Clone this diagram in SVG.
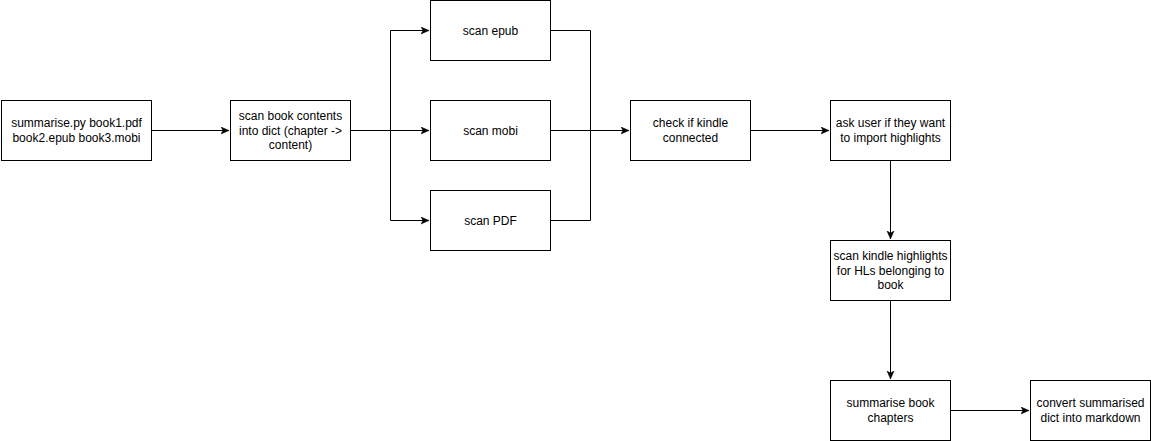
<svg xmlns="http://www.w3.org/2000/svg" width="1151" height="441" viewBox="0 0 1151 441">
<style>
.box{fill:#fff;stroke:#000;stroke-width:1}
.lbl{font-family:"Liberation Sans",Arial,sans-serif;font-size:12px;fill:#000;text-anchor:middle}
.edge{fill:none;stroke:#000;stroke-width:1}
</style>
<defs>
<marker id="arr" markerUnits="userSpaceOnUse" markerWidth="10" markerHeight="10" refX="8" refY="4" orient="auto">
<path d="M0,0.5 L8,4 L0,7.5 L2,4 Z" fill="#000" stroke="#000" stroke-width="0.5"/>
</marker>
</defs>
<rect width="1151" height="441" fill="#fff"/>
<g id="connectors">
<path class="edge" d="M151,130.5 L229,130.5" marker-end="url(#arr)"/>
<path class="edge" d="M350,130.5 L429,130.5" marker-end="url(#arr)"/>
<path class="edge" d="M390.5,130.5 L390.5,30.5 L429,30.5" marker-end="url(#arr)"/>
<path class="edge" d="M390.5,130.5 L390.5,220.5 L429,220.5" marker-end="url(#arr)"/>
<path class="edge" d="M550,30.5 L590.5,30.5 L590.5,130.5"/>
<path class="edge" d="M550,220.5 L590.5,220.5 L590.5,130.5"/>
<path class="edge" d="M550,130.5 L629,130.5" marker-end="url(#arr)"/>
<path class="edge" d="M750,130.5 L829,130.5" marker-end="url(#arr)"/>
<path class="edge" d="M890.5,160 L890.5,239" marker-end="url(#arr)"/>
<path class="edge" d="M890.5,300 L890.5,379" marker-end="url(#arr)"/>
<path class="edge" d="M950,410.5 L1029,410.5" marker-end="url(#arr)"/>
</g>
<g id="n1"><rect class="box" x="1.5" y="100.5" width="150" height="60"/>
<text class="lbl" x="76.5"><tspan x="76.5" y="127">summarise.py book1.pdf</tspan><tspan x="76.5" y="141.5">book2.epub book3.mobi</tspan></text></g>
<g id="n2"><rect class="box" x="230.5" y="100.5" width="120" height="60"/>
<text class="lbl"><tspan x="290.5" y="120">scan book contents</tspan><tspan x="290.5" y="134.5">into dict (chapter -&gt;</tspan><tspan x="290.5" y="149">content)</tspan></text></g>
<g id="n3"><rect class="box" x="430.5" y="0.5" width="120" height="60"/>
<text class="lbl" x="490.5" y="34.5">scan epub</text></g>
<g id="n4"><rect class="box" x="430.5" y="100.5" width="120" height="60"/>
<text class="lbl" x="490.5" y="134.5">scan mobi</text></g>
<g id="n5"><rect class="box" x="430.5" y="190.5" width="120" height="60"/>
<text class="lbl" x="490.5" y="224.5">scan PDF</text></g>
<g id="n6"><rect class="box" x="630.5" y="100.5" width="120" height="60"/>
<text class="lbl"><tspan x="690.5" y="127">check if kindle</tspan><tspan x="690.5" y="141.5">connected</tspan></text></g>
<g id="n7"><rect class="box" x="830.5" y="100.5" width="120" height="60"/>
<text class="lbl"><tspan x="890.5" y="127">ask user if they want</tspan><tspan x="890.5" y="141.5">to import highlights</tspan></text></g>
<g id="n8"><rect class="box" x="830.5" y="240.5" width="120" height="60"/>
<text class="lbl"><tspan x="890.5" y="260">scan kindle highlights</tspan><tspan x="890.5" y="274.5">for HLs belonging to</tspan><tspan x="890.5" y="289">book</tspan></text></g>
<g id="n9"><rect class="box" x="830.5" y="380.5" width="120" height="60"/>
<text class="lbl"><tspan x="890.5" y="407">summarise book</tspan><tspan x="890.5" y="421.5">chapters</tspan></text></g>
<g id="n10"><rect class="box" x="1030.5" y="380.5" width="120" height="60"/>
<text class="lbl"><tspan x="1090.5" y="407">convert summarised</tspan><tspan x="1090.5" y="421.5">dict into markdown</tspan></text></g>
</svg>
